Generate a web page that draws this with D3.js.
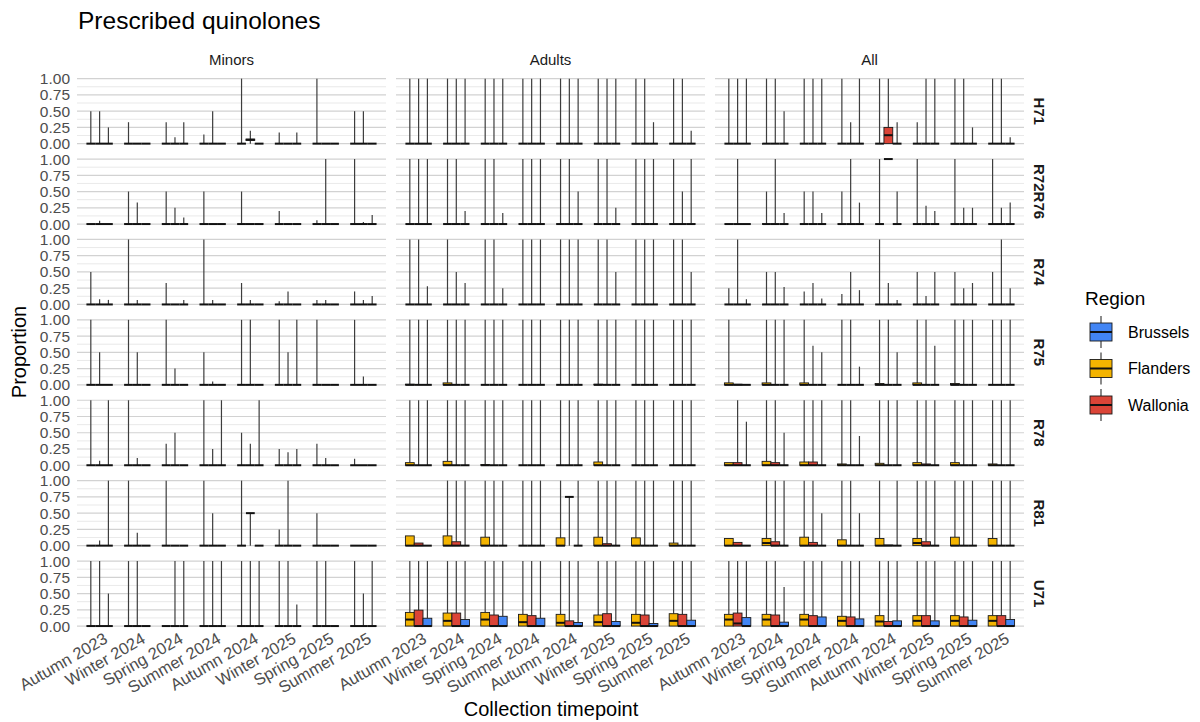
<!DOCTYPE html>
<html><head><meta charset="utf-8">
<script src="https://cdn.jsdelivr.net/npm/d3@7"></script>
<style>body{margin:0;background:#fff;}svg{font-family:"Liberation Sans",Arial,sans-serif;}</style>
</head><body><svg id="c" width="1200" height="722"></svg>
<script>
// ---------- data ----------
const timepoints = ["Autumn 2023","Winter 2024","Spring 2024","Summer 2024","Autumn 2024","Winter 2025","Spring 2025","Summer 2025"];
const dodgeOrder = ["Flanders","Wallonia","Brussels"];
const legendOrder = ["Brussels","Flanders","Wallonia"];
const ageGroups = ["Minors","Adults","All"];
const atcClasses = ["H71","R72R76","R74","R75","R78","R81","U71"];
const yTicks = [0,0.25,0.5,0.75,1];
// entry per region: number = upper whisker (box at 0); [q3,hi]; [q3,med,hi]; [lo,q1,med,q3,hi]
const minorsH71 = [[.5,.5,.25],[.33,0,0],[.33,.1,.33],[.14,.5,0],[1,[0,.05,.06,.07,.2],0],[.17,0,.17],[1,.01,0],[.5,.5,0]];
const minorsR72R76 = [[0,.05,0],[.5,.33,0],[.5,.25,.1],[.5,0,0],[.5,0,0],[.2,0,0],[.06,1,0],[1,.03,.14]];
const minorsR74 = [[.5,.08,.07],[1,.07,0],[.33,0,.07],[1,.07,0],[.33,.07,0],[.05,.2,0],[.07,.07,0],[.2,.07,.13]];
const minorsR75 = [[1,.5,0],[1,.5,0],[1,.25,0],[.5,.05,0],[1,1,0],[1,.5,1],[1,0,0],[1,.13,0]];
const minorsR78 = [[1,.07,1],[1,.11,0],[.33,.5,0],[1,.25,1],[.5,.33,1],[.25,.2,.25],[.33,.11,0],[.1,0,0]];
const minorsR81 = [[0,.08,1],[1,.2,0],[1,0,0],[1,.5,0],[1,[0,.5,.5,.5,.5],0],[.25,1,0],[.5,0,0],[0,0,0]];
const minorsU71 = [[1,1,.5],[1,1,0],[0,1,1],[1,1,1],[1,1,1],[1,1,.33],[1,1,0],[1,.5,1]];

const adultsH71 = [[1,1,1],[1,1,1],[1,1,1],[1,1,1],[1,1,1],[1,1,1],[1,1,.33],[1,1,.2]];
const adultsR72R76 = [[1,1,1],[1,1,.2],[1,1,.17],[1,1,1],[1,1,.5],[1,1,.25],[1,1,1],[1,.5,1]];
const adultsR74 = [[1,1,.28],[1,.5,.33],[1,1,.25],[1,1,1],[1,1,1],[1,1,.5],[1,1,1],[1,1,.5]];
const adultsR75 = [[[.01,1],1,1],[[.03,1],1,1],[1,1,1],[1,1,1],[1,1,1],[[.01,1],1,1],[1,1,1],[1,1,1]];
const adultsR78 = [[[.04,1],1,1],[[.06,1],1,1],[[.01,1],1,1],[1,1,1],[1,1,1],[[.05,1],1,1],[1,1,1],[1,1,1]];
const adultsR81 = [[[.15,.15],[.04,.04],0],[[.15,1],[.06,1],1],[[.13,1],1,1],[1,1,1],[[.12,1],[0,.75,.75,.75,.75],1],[[.13,1],[.03,1],1],[[.12,1],1,1],[[.04,1],1,1]];
const adultsU71 = [[[.21,.1,1],[.245,0,1],[.12,0,1]],[[.2,.08,1],[.2,0,1],[.1,0,1]],[[.21,.1,1],[.17,0,1],[.15,0,1]],[[.18,.06,1],[.16,0,1],[.12,0,1]],[[.18,.05,1],[.08,0,1],[.055,0,1]],[[.17,.06,1],[.19,0,1],[.07,0,1]],[[.18,.05,1],[.17,0,1],[.04,0,1]],[[.19,.08,1],[.18,0,1],[.09,0,1]]];

const allH71 = [[1,1,1],[1,1,.5],[1,1,1],[1,.33,1],[1,[.25,.13,1],.33],[.33,1,1],[1,1,.25],[1,1,.1]];
const allR72R76 = [[0,1,0],[.5,1,.17],[.5,.5,.17],[.5,1,.33],[1,[1,1,1,1,1],.5],[1,.28,.2],[1,.25,.25],[1,.25,.33]];
const allR74 = [[.25,1,.08],[.5,.5,.27],[.2,.33,.09],[.16,.5,.22],[1,.33,.07],[.5,.13,.5],[.5,.25,.33],[.5,1,.25]];
const allR75 = [[[.03,1],[.01,.01],0],[[.03,1],1,1],[[.03,1],.6,.5],[1,1,.28],[[.02,1],1,.5],[[.03,1],1,.6],[[.02,1],1,1],[1,1,1]];
const allR78 = [[[.04,.04],[.04,1],.67],[[.06,1],[.04,1],.5],[[.05,1],[.05,1],1],[[.02,1],1,.45],[[.03,1],1,1],[[.04,1],[.02,1],1],[[.04,1],1,1],[[.02,1],1,1]];
const allR81 = [[[.11,.11],[.05,.05],0],[[.11,.04,1],[.06,1],1],[[.13,1],[.05,1],.5],[[.09,1],1,.5],[[.11,1],[.01,.01],1],[[.11,.04,1],[.06,1],1],[[.13,1],1,1],[[.11,1],1,1]];
const allU71 = [[[.18,.1,1],[.2,.04,1],[.13,0,1]],[[.18,.1,1],[.17,0,1],[.06,0,.6]],[[.18,.1,1],[.16,0,1],[.14,0,1]],[[.15,.08,1],[.14,0,1],[.11,0,1]],[[.16,.07,1],[.07,0,1],[.08,0,1]],[[.16,.08,1],[.16,0,1],[.08,0,1]],[[.16,.08,1],[.14,0,1],[.09,0,1]],[[.16,.08,1],[.16,0,1],[.1,0,1]]];

const panels = {
  Minors:[minorsH71,minorsR72R76,minorsR74,minorsR75,minorsR78,minorsR81,minorsU71],
  Adults:[adultsH71,adultsR72R76,adultsR74,adultsR75,adultsR78,adultsR81,adultsU71],
  All:[allH71,allR72R76,allR74,allR75,allR78,allR81,allU71]
};
const colors = {Brussels:"#4285F4",Flanders:"#F4B400",Wallonia:"#DB4437"};

// ---------- layout ----------
const svg = d3.select("#c");
const left = 77, panelW = 309, gapX = 10;
const top0 = 75.4, panelH = 71.5, pitchY = 80.4;

function parse(e){
  if (typeof e === "number") return {lo:0,q1:0,med:0,q3:0,hi:e};
  if (e.length === 2) return {lo:0,q1:0,med:0,q3:e[0],hi:e[1]};
  if (e.length === 3) return {lo:0,q1:0,med:e[1],q3:e[0],hi:e[2]};
  return {lo:e[0],q1:e[1],med:e[2],q3:e[3],hi:e[4]};
}

svg.append("text").attr("x",78).attr("y",29).attr("font-size",24.5).attr("fill","#000").text("Prescribed quinolones");

ageGroups.forEach((ag,ci)=>{
  const x0 = left + ci*(panelW+gapX);
  const x = d3.scalePoint().domain(timepoints).range([x0, x0+panelW]).padding(0.6);
  const step = x.step();
  const xd = d3.scaleBand().domain(dodgeOrder).range([-0.35*step, 0.35*step]);
  svg.append("text").attr("x",x0+panelW/2).attr("y",65).attr("text-anchor","middle")
     .attr("font-size",15).attr("fill","#1a1a1a").text(ag);

  atcClasses.forEach((cl,ri)=>{
    const yTop = top0 + ri*pitchY;
    const y = d3.scaleLinear().domain([0,1]).range([yTop + panelH - 3.25, yTop + 3.25]);
    const g = svg.append("g");
    const minor = [0.125,0.375,0.625,0.875];
    g.selectAll(".mn").data(minor).join("line")
      .attr("x1",x0).attr("x2",x0+panelW).attr("y1",d=>y(d)).attr("y2",d=>y(d))
      .attr("stroke","#e3e3e3").attr("stroke-width",0.8);
    g.selectAll(".mj").data(yTicks).join("line")
      .attr("x1",x0).attr("x2",x0+panelW).attr("y1",d=>y(d)).attr("y2",d=>y(d))
      .attr("stroke","#d2d2d2").attr("stroke-width",1.2);
    if (ci === 0) {
      const ax = svg.append("g").attr("transform",`translate(${x0-5},0)`)
        .call(d3.axisLeft(y).tickValues(yTicks).tickFormat(d3.format(".2f")).tickSize(0).tickPadding(2));
      ax.select(".domain").remove();
      ax.selectAll("text").attr("font-size",15.5).attr("fill","#4d4d4d").attr("font-family","Liberation Sans, Arial, sans-serif");
    }
    if (ci === 2) {
      const cx = x0+panelW+15, cy = yTop+panelH/2;
      svg.append("text").attr("transform",`translate(${cx},${cy}) rotate(90)`)
        .attr("text-anchor","middle").attr("dy","0.35em").attr("font-size",15)
        .attr("font-weight","bold").attr("fill","#1a1a1a").text(cl);
    }
    const data = [];
    panels[ag][ri].forEach((grp,ti)=>grp.forEach((e,k)=>{
      const s = parse(e); s.t = timepoints[ti]; s.r = dodgeOrder[k]; data.push(s);
    }));
    const bw = xd.bandwidth();
    const bx = d => x(d.t) + xd(d.r);
    const cxf = d => bx(d) + bw/2;
    g.selectAll(".wu").data(data.filter(d=>d.hi>d.q3)).join("line")
      .attr("x1",cxf).attr("x2",cxf).attr("y1",d=>y(d.q3)).attr("y2",d=>y(d.hi))
      .attr("stroke","#3d3d3d").attr("stroke-width",1.2);
    g.selectAll(".wl").data(data.filter(d=>d.q1>d.lo)).join("line")
      .attr("x1",cxf).attr("x2",cxf).attr("y1",d=>y(d.q1)).attr("y2",d=>y(d.lo))
      .attr("stroke","#3d3d3d").attr("stroke-width",1.2);
    g.selectAll(".bx").data(data).join("rect")
      .attr("x",bx).attr("width",bw).attr("y",d=>y(d.q3)).attr("height",d=>y(d.q1)-y(d.q3))
      .attr("fill",d=>colors[d.r]).attr("stroke","#1a1a1a").attr("stroke-width",0.9);
    g.selectAll(".md").data(data).join("line")
      .attr("x1",bx).attr("x2",d=>bx(d)+bw).attr("y1",d=>y(d.med)).attr("y2",d=>y(d.med))
      .attr("stroke","#111").attr("stroke-width",2);
  });

  const yb = top0 + 6*pitchY + panelH + 2;
  timepoints.forEach(t=>{
    svg.append("text").attr("transform",`translate(${x(t)+3},${yb}) rotate(-30)`)
      .attr("text-anchor","end").attr("dy","0.75em").attr("font-size",16.5).attr("fill","#4d4d4d").text(t);
  });
});

svg.append("text").attr("x",551).attr("y",716).attr("text-anchor","middle").attr("font-size",20).attr("fill","#000").text("Collection timepoint");
svg.append("text").attr("transform","translate(26,352) rotate(-90)").attr("text-anchor","middle").attr("font-size",20).attr("fill","#000").text("Proportion");

const lg = svg.append("g").attr("transform","translate(1085,0)");
lg.append("text").attr("x",0).attr("y",305).attr("font-size",19).attr("fill","#000").text("Region");
legendOrder.forEach((r,i)=>{
  const cy = 332 + i*36.5;
  lg.append("line").attr("x1",16).attr("x2",16).attr("y1",cy-16).attr("y2",cy+16).attr("stroke","#3d3d3d").attr("stroke-width",1.2);
  lg.append("rect").attr("x",5).attr("y",cy-9).attr("width",22).attr("height",18).attr("fill",colors[r]).attr("stroke","#1a1a1a").attr("stroke-width",0.9);
  lg.append("line").attr("x1",5).attr("x2",27).attr("y1",cy).attr("y2",cy).attr("stroke","#111").attr("stroke-width",2);
  lg.append("text").attr("x",43).attr("y",cy).attr("dy","0.35em").attr("font-size",16).attr("fill","#000").text(r);
});
</script></body></html>
